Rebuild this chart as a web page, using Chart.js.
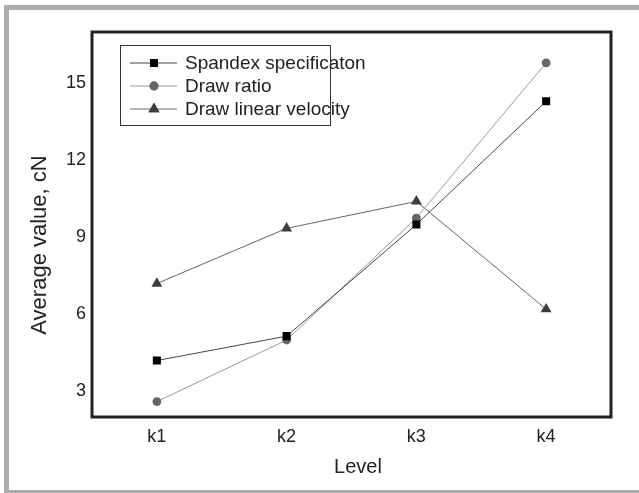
<!DOCTYPE html>
<html>
<head>
<meta charset="utf-8">
<script src="https://cdn.jsdelivr.net/npm/chart.js@4/dist/chart.umd.min.js"></script>
<style>
html,body{margin:0;padding:0;background:#fff;}
#wrap{position:relative;width:639px;height:493px;}
</style>
</head>
<body>
<div id="wrap"><canvas id="c" width="639" height="493"></canvas></div>
<script>
const categories = ['k1', 'k2', 'k3', 'k4'];
const spandexSpec = [4.2, 5.15, 9.5, 14.3];
const drawRatio = [2.6, 5.0, 9.75, 15.8];
const drawVelocity = [7.2, 9.35, 10.4, 6.2];
const yTicks = [3, 6, 9, 12, 15];
const seriesNames = ['Spandex specificaton', 'Draw ratio', 'Draw linear velocity'];
const yTitle = 'Average value, cN';
const xTitle = 'Level';

const FONT = "'Liberation Sans', Arial, sans-serif";

const framePlugin = {
  id: 'frame',
  beforeDraw(chart) {
    const ctx = chart.ctx;
    ctx.save();
    ctx.fillStyle = '#fff';
    ctx.fillRect(0, 0, chart.width, chart.height);
    ctx.fillStyle = '#acacac';
    ctx.fillRect(4, 5, chart.width - 4, 5);
    ctx.fillRect(4, 5, 5, chart.height - 5);
    ctx.fillRect(4, 490, chart.width - 4, 3);
    ctx.restore();
  },
  beforeDatasetsDraw(chart) {
    const a = chart.chartArea;
    const ctx = chart.ctx;
    ctx.save();
    ctx.strokeStyle = '#222';
    ctx.lineWidth = 3;
    ctx.strokeRect(a.left, a.top, a.right - a.left, a.bottom - a.top);
    ctx.restore();
  },
  afterDraw(chart) {
    const ctx = chart.ctx;
    ctx.save();
    // axis titles
    ctx.fillStyle = '#222';
    ctx.textAlign = 'center';
    ctx.textBaseline = 'middle';
    ctx.font = "20px " + FONT;
    ctx.fillText(xTitle, 358, 467);
    ctx.save();
    ctx.translate(40, 245);
    ctx.rotate(-Math.PI / 2);
    ctx.font = "22px " + FONT;
    ctx.fillText(yTitle, 0, 0);
    ctx.restore();
    // legend box
    ctx.strokeStyle = '#333';
    ctx.lineWidth = 1;
    ctx.strokeRect(120.5, 45.5, 210, 80);
    const rows = [63, 86, 109];
    chart.data.datasets.forEach((ds, i) => {
      const y = rows[i];
      ctx.strokeStyle = ds.borderColor;
      ctx.lineWidth = 1;
      ctx.beginPath();
      ctx.moveTo(130, y);
      ctx.lineTo(177, y);
      ctx.stroke();
      Chart.helpers.drawPoint(ctx, {
        pointStyle: ds.pointStyle,
        radius: ds.pointRadius,
        borderWidth: 0,
        rotation: 0
      }, 154, y);
      ctx.fillStyle = ds.pointBackgroundColor;
      ctx.fill();
      ctx.fillStyle = '#222';
      ctx.font = "19px " + FONT;
      ctx.textBaseline = 'middle';
      ctx.textAlign = 'left';
      ctx.fillText(ds.label, 185, y + 1);
    });
    ctx.restore();
  }
};

new Chart(document.getElementById('c'), {
  type: 'line',
  data: {
    labels: categories,
    datasets: [
      {
        label: seriesNames[0], data: spandexSpec,
        borderColor: '#444', borderWidth: 1,
        pointStyle: 'rect', pointRadius: 5.7,
        pointBackgroundColor: '#000', pointBorderColor: '#000', pointBorderWidth: 0
      },
      {
        label: seriesNames[1], data: drawRatio,
        borderColor: '#999', borderWidth: 1,
        pointStyle: 'circle', pointRadius: 4.4,
        pointBackgroundColor: '#666', pointBorderColor: '#666', pointBorderWidth: 0
      },
      {
        label: seriesNames[2], data: drawVelocity,
        borderColor: '#666', borderWidth: 1,
        pointStyle: 'triangle', pointRadius: 6.3,
        pointBackgroundColor: '#3c3c3c', pointBorderColor: '#3c3c3c', pointBorderWidth: 0
      }
    ]
  },
  options: {
    responsive: false,
    animation: false,
    devicePixelRatio: 1,
    layout: { padding: { top: 32, right: 28, left: 12, bottom: 10 } },
    plugins: { legend: { display: false }, tooltip: { enabled: false } },
    elements: { line: { tension: 0 } },
    scales: {
      x: {
        type: 'category',
        offset: true,
        grid: { display: false, drawTicks: false },
        border: { display: false },
        ticks: { color: '#222', font: { family: FONT, size: 18 }, padding: 9 },
        afterFit(s) { s.height = 66; }
      },
      y: {
        min: 2, max: 17,
        grid: { display: false, drawTicks: false },
        border: { display: false },
        afterBuildTicks(s) { s.ticks = yTicks.map(v => ({ value: v })); },
        ticks: { color: '#222', font: { family: FONT, size: 18 }, padding: 6 },
        afterFit(s) { s.width = 80; }
      }
    }
  },
  plugins: [framePlugin]
});
</script>
</body>
</html>
